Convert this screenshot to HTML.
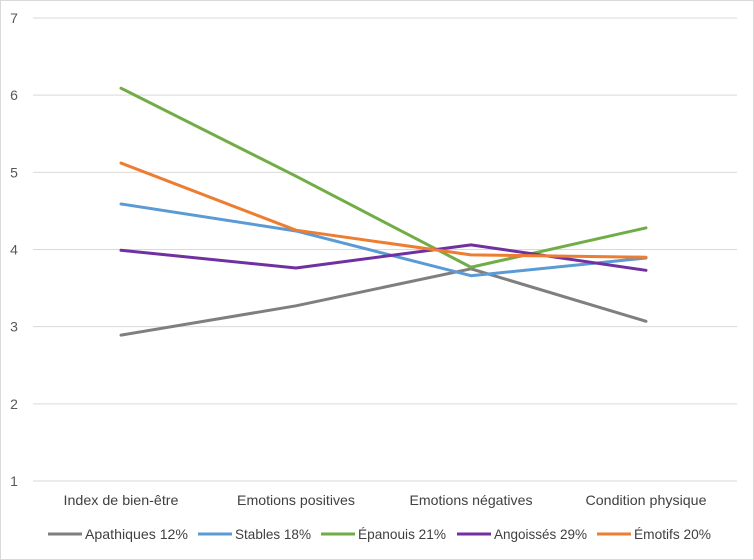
<!DOCTYPE html>
<html><head><meta charset="utf-8"><style>
body{margin:0;background:#fff;}
svg{display:block;font-family:"Liberation Sans",sans-serif;}
</style></head><body>
<svg width="754" height="560">
<rect x="0.5" y="0.5" width="753" height="559" fill="#fff" stroke="#d9d9d9"/>
<g id="grid"></g><g id="lines"></g><g id="legend"></g>
</svg>
<script>
const categories=["Index de bien-être","Emotions positives","Emotions négatives","Condition physique"];
const yTicks=[1,2,3,4,5,6,7];
const seriesNames=["Apathiques 12%","Stables 18%","Épanouis 21%","Angoissés 29%","Émotifs 20%"];
const seriesColors=["#7f7f7f","#5b9bd5","#70ad47","#7030a0","#ed7d31"];
const apathiques=[2.89,3.27,3.75,3.07];
const stables=[4.59,4.24,3.66,3.89];
const epanouis=[6.09,4.95,3.77,4.28];
const angoisses=[3.99,3.76,4.06,3.73];
const emotifs=[5.12,4.25,3.93,3.90];
const seriesData=[apathiques,stables,epanouis,angoisses,emotifs];
const NS="http://www.w3.org/2000/svg";
const y=v=>481-(v-1)*77.17;
const x=i=>121+i*175;
const catW=[115,118,123,121];
const legLineX=[48,198,321,457,597];
const legTextW=[103,76,88,93,77];
function mk(t,a,p){const e=document.createElementNS(NS,t);for(const k in a)e.setAttribute(k,a[k]);p.appendChild(e);return e;}
const grid=document.getElementById('grid');
yTicks.forEach(v=>{
 const l=mk('line',{x1:33,x2:737,y1:y(v),y2:y(v),stroke:'#d9d9d9','stroke-width':1},grid);
 
 
 const t=mk('text',{x:14,y:y(v)+5,'font-size':14,fill:'#595959','text-anchor':'middle'},grid);
 t.textContent=v;
 
 
});
categories.forEach((c,i)=>{
 const t=mk('text',{x:x(i)-catW[i]/2,y:505,'font-size':14,fill:'#404040',textLength:catW[i],lengthAdjust:'spacingAndGlyphs'},grid);
 t.textContent=c;
 
 
});
const lines=document.getElementById('lines');
seriesData.forEach((d,s)=>{
 const p=mk('polyline',{points:d.map((v,i)=>x(i)+','+y(v)).join(' '),fill:'none',stroke:seriesColors[s],'stroke-width':3,'stroke-linejoin':'round','stroke-linecap':'round'},lines);
 
 
});
const leg=document.getElementById('legend');
seriesNames.forEach((n,s)=>{
 const g=mk('g',{},leg);
 
 
 mk('line',{x1:legLineX[s],x2:legLineX[s]+34,y1:534,y2:534,stroke:seriesColors[s],'stroke-width':3},g);
 const t=mk('text',{x:legLineX[s]+37,y:539,'font-size':14,fill:'#404040',textLength:legTextW[s],lengthAdjust:'spacingAndGlyphs'},g);
 t.textContent=n;
});
</script>
</body></html>
